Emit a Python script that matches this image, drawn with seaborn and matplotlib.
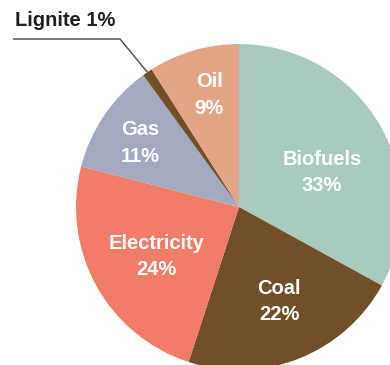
import matplotlib
matplotlib.use("Agg")
import matplotlib.pyplot as plt
import seaborn as sns
import numpy as np

sns.set_theme(style="white")
plt.rcParams["font.family"] = ["Liberation Sans", "DejaVu Sans"]

# Energy mix shares (%)
categories = ["Biofuels", "Coal", "Electricity", "Gas", "Lignite", "Oil"]
shares = [33, 22, 24, 11, 1, 9]
colors = ["#a9cbbe", "#714f29", "#f17c67", "#a3a9be", "#714f29", "#e4a586"]

# in-slice label placement: (radius fraction, angle in degrees)
label_place = {
    "Biofuels": (0.55, 22.5),
    "Coal": (0.63, -67),
    "Electricity": (0.59, 211),
    "Gas": (0.72, 147),
    "Oil": (0.71, 105),
}

W, H = 390, 365
cx, cy, R = 239, H - 207, 163

fig = plt.figure(figsize=(W / 100, H / 100), dpi=100)
ax = fig.add_axes([0, 0, 1, 1])

wedges, _ = ax.pie(
    shares,
    colors=colors,
    startangle=90,
    counterclock=False,
    center=(cx, cy),
    radius=R,
    wedgeprops=dict(linewidth=0),
    frame=False,
)
ax.set_xlim(0, W)
ax.set_ylim(0, H)
ax.set_aspect("equal")
ax.axis("off")

for cat, val in zip(categories, shares):
    if cat not in label_place:
        continue
    frac, ang = label_place[cat]
    x = cx + frac * R * np.cos(np.radians(ang))
    y = cy + frac * R * np.sin(np.radians(ang))
    ax.text(x, y, f"{cat}\n{val}%", ha="center", va="center",
            color="white", fontsize=14.5, fontweight="bold", linespacing=1.5)

# callout for the small slice
i = categories.index("Lignite")
w = wedges[i]
mid = np.radians((w.theta1 + w.theta2) / 2)
ex, ey = cx + R * np.cos(mid), cy + R * np.sin(mid)
ax.plot([13, 120, ex], [H - 39, H - 39, ey], color="#555555", lw=1.1,
        solid_capstyle="butt")
ax.text(15, H - 21, f"{categories[i]} {shares[i]}%", ha="left", va="center",
        color="#231f20", fontsize=14.5, fontweight="bold")

fig.savefig("out.png", dpi=100)
